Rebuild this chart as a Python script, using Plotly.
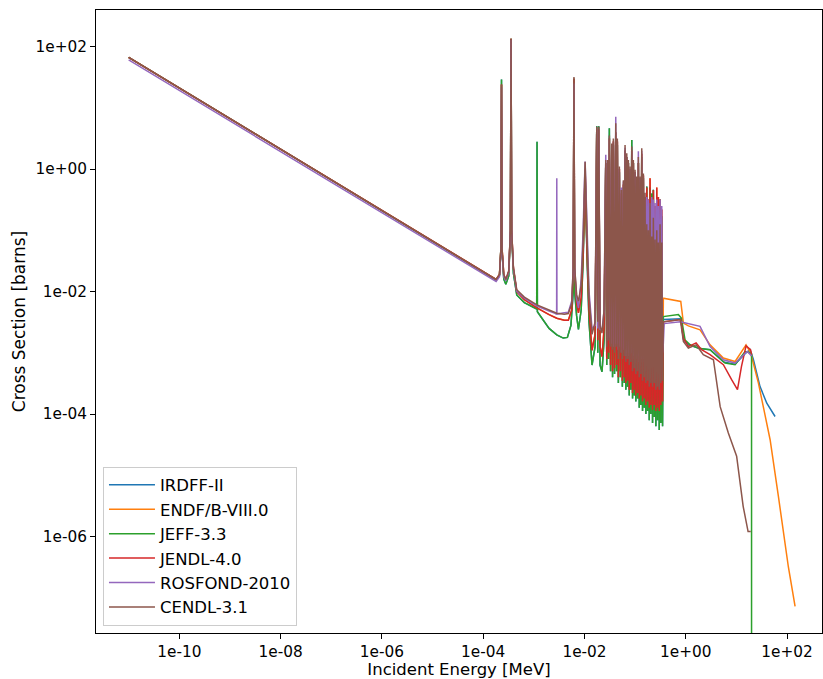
import plotly.graph_objects as go

# ---------------- data (energies in MeV, cross sections in barns) ----------------
labels = ["IRDFF-II", "ENDF/B-VIII.0", "JEFF-3.3", "JENDL-4.0", "ROSFOND-2010", "CENDL-3.1"]
colors = ["#1f77b4", "#ff7f0e", "#2ca02c", "#d62728", "#9467bd", "#8c564b"]

# low-energy part: 1/v region and isolated resonances (below ~25 keV)
cendl_low_E = [1e-11, 1.8e-4, 2.1e-4, 2.24e-4, 2.3e-4, 2.36e-4, 2.55e-4, 2.8e-4, 3.2e-4, 3.45e-4,
               3.55e-4, 3.65e-4, 3.95e-4, 4.6e-4, 6.5e-4, 1.15e-3, 2.0e-3, 2.84e-3, 4.0e-3, 4.8e-3,
               5.6e-3, 6.0e-3, 6.2e-3, 6.4e-3, 7.0e-3, 7.6e-3, 8.6e-3, 9.4e-3, 1.0e-2, 1.03e-2,
               1.06e-2, 1.13e-2, 1.23e-2, 1.41e-2, 1.62e-2, 1.748e-2, 1.83e-2, 1.914e-2, 2.03e-2, 2.22e-2,
               2.44e-2]
cendl_low_xs = [67, 1.58e-2, 1.9e-2, 5e-2, 24, 5e-2, 1.9e-2, 1.58e-2, 2.2e-2, 0.1,
                135, 0.1, 2.5e-2, 1.07e-2, 8.1e-3, 6.07e-3, 5e-3, 4.44e-3, 4.27e-3, 4.37e-3,
                6.3e-3, 2.5e-2, 32, 2.5e-2, 8.9e-3, 6.9e-3, 1.26e-2, 6.3e-2, 0.5, 1.32,
                0.5, 6.3e-2, 7.9e-3, 2e-3, 3.2e-3, 4.9, 3.2e-3, 4.9, 2.8e-3, 2.1e-3,
                5e-3]
jendl_low_E = cendl_low_E
jendl_low_xs = [67, 1.58e-2, 1.9e-2, 5e-2, 24, 5e-2, 1.9e-2, 1.55e-2, 2.1e-2, 0.1,
                135, 0.1, 2.4e-2, 1.0e-2, 7.4e-3, 5.4e-3, 4.2e-3, 3.67e-3, 3.4e-3, 3.4e-3,
                5e-3, 2.2e-2, 30, 2.2e-2, 6.3e-3, 4.5e-3, 7.9e-3, 4e-2, 0.32, 1.0,
                0.32, 4e-2, 5e-3, 1.1e-3, 2e-3, 4.5, 1.6e-3, 4.5, 1.26e-3, 8.7e-4,
                2.5e-3]
jeff_low_E = [1e-11, 1.8e-4, 2.1e-4, 2.24e-4, 2.3e-4, 2.36e-4, 2.55e-4, 2.8e-4, 3.2e-4, 3.45e-4,
              3.55e-4, 3.65e-4, 3.95e-4, 4.6e-4, 6.5e-4, 1.14e-3, 1.158e-3, 1.175e-3, 2.0e-3, 2.84e-3,
              3.8e-3, 4.6e-3, 5.4e-3, 6.0e-3, 6.2e-3, 6.4e-3, 7.0e-3, 7.6e-3, 8.6e-3, 9.4e-3,
              1.0e-2, 1.03e-2, 1.06e-2, 1.13e-2, 1.23e-2, 1.41e-2, 1.62e-2, 1.748e-2, 1.83e-2, 1.914e-2,
              2.03e-2, 2.22e-2, 2.44e-2]
jeff_low_xs = [67, 1.55e-2, 1.85e-2, 5e-2, 29, 4.5e-2, 1.6e-2, 1.32e-2, 1.8e-2, 0.1,
               135, 0.09, 2e-2, 8.8e-3, 6.6e-3, 5.2e-3, 2.8, 4.7e-3, 2.5e-3, 1.96e-3,
               1.74e-3, 1.78e-3, 2.8e-3, 1e-2, 30, 1e-2, 4e-3, 2.4e-3, 5e-3, 3.2e-2,
               0.25, 0.8, 0.25, 3.2e-2, 3.2e-3, 6.3e-4, 1.26e-3, 5.0, 1e-3, 5.0,
               6.3e-4, 4.9e-4, 1.6e-3]
rosfond_low_E = [1e-11, 1.8e-4, 2.1e-4, 2.24e-4, 2.3e-4, 2.36e-4, 2.55e-4, 2.8e-4, 3.2e-4, 3.45e-4,
                 3.55e-4, 3.65e-4, 3.95e-4, 4.6e-4, 6.5e-4, 1.15e-3, 2.0e-3, 2.82e-3, 2.84e-3, 2.86e-3,
                 4.0e-3, 4.8e-3, 5.6e-3, 6.0e-3, 6.2e-3, 6.4e-3, 7.0e-3, 7.6e-3, 8.6e-3, 9.4e-3,
                 1.0e-2, 1.03e-2, 1.06e-2, 1.13e-2, 1.23e-2, 1.41e-2, 1.62e-2, 1.748e-2, 1.83e-2, 1.914e-2,
                 2.03e-2, 2.22e-2, 2.44e-2]
rosfond_low_xs = [60.7, 1.46e-2, 1.75e-2, 4.5e-2, 22, 4.5e-2, 1.75e-2, 1.5e-2, 2.1e-2, 0.1,
                  130, 0.1, 2.4e-2, 1.02e-2, 7.8e-3, 5.8e-3, 4.8e-3, 4.3e-3, 0.71, 4.3e-3,
                  4.5e-3, 4.6e-3, 7e-3, 2.5e-2, 25, 2.5e-2, 7.9e-3, 5.4e-3, 1.6e-2, 0.1,
                  0.63, 1.33, 0.63, 0.1, 1e-2, 2.5e-3, 2.8e-3, 4.5, 2.5e-3, 4.5,
                  2.4e-3, 2.35e-3, 5e-3]

# dense resonance region (~26 keV - 350 keV): alternating peak / valley energies
dense_E = [0.02632, 0.02754, 0.02882, 0.02988, 0.03099, 0.03273, 0.03457, 0.03585, 0.03718, 0.03926,
           0.04147, 0.04300, 0.04459, 0.04667, 0.04885, 0.05112, 0.05351, 0.05598, 0.05859, 0.06103,
           0.06330, 0.06564, 0.06837, 0.07090, 0.07353, 0.07661, 0.07945, 0.08239, 0.08582, 0.08900,
           0.09230, 0.09616, 0.09972, 0.1034, 0.1077, 0.1117, 0.1159, 0.1207, 0.1252, 0.1298,
           0.1352, 0.1402, 0.1455, 0.1515, 0.1571, 0.1630, 0.1698, 0.1761, 0.1826, 0.1902,
           0.1972, 0.2045, 0.2131, 0.2210, 0.2292, 0.2388, 0.2476, 0.2568, 0.2676, 0.2774,
           0.2877, 0.2997, 0.3108, 0.3223, 0.3358, 0.3482]
cendl_dense = [1.41, 1.26e-3, 1.41, 1.58e-3, 3.55, 1.26e-3, 2.63, 1.12e-3, 3.16, 1.0e-3,
               5.62, 1.26e-3, 3.16, 7.9e-4, 1.1, 1.0e-3, 0.457, 7.9e-4, 0.66, 8.9e-4,
               2.48, 7.1e-4, 1.82, 7.9e-4, 1.41, 6.3e-4, 1.1, 7.1e-4, 2.34, 5.0e-4,
               1.41, 5.6e-4, 0.98, 4.5e-4, 0.76, 5.0e-4, 1.58, 4.0e-4, 0.76, 4.5e-4,
               2.19, 3.5e-4, 0.85, 4.0e-4, 0.41, 3.2e-4, 0.126, 3.5e-4, 0.1, 2.8e-4,
               0.28, 3.2e-4, 7.9e-2, 2.8e-4, 0.16, 3.2e-4, 7.1e-2, 2.5e-4, 0.1, 2.8e-4,
               6.3e-2, 2.5e-4, 0.126, 3.2e-4, 6.3e-2, 3.5e-4]
jendl_dense = [1.26, 7.9e-4, 1.26, 1.0e-3, 3.16, 6.3e-4, 2.24, 5.0e-4, 2.82, 5.6e-4,
               3.98, 6.3e-4, 2.82, 4.0e-4, 1.0, 5.0e-4, 0.4, 3.5e-4, 0.56, 4.0e-4,
               2.0, 3.2e-4, 1.58, 3.5e-4, 1.26, 2.5e-4, 1.0, 3.2e-4, 2.0, 2.2e-4,
               1.26, 2.5e-4, 0.89, 2.0e-4, 0.71, 2.2e-4, 1.26, 1.8e-4, 0.71, 2.0e-4,
               1.78, 1.6e-4, 0.79, 1.8e-4, 0.35, 1.4e-4, 0.5, 1.6e-4, 0.32, 1.26e-4,
               0.71, 1.4e-4, 0.28, 1.17e-4, 0.45, 1.4e-4, 0.25, 1.12e-4, 0.5, 1.26e-4,
               0.35, 1.12e-4, 0.32, 1.4e-4, 0.22, 1.6e-4]
jeff_dense = [1.26, 6.3e-4, 1.26, 7.9e-4, 4.65, 5.0e-4, 2.0, 4.0e-4, 2.51, 4.5e-4,
              3.98, 5.0e-4, 2.51, 3.2e-4, 0.89, 4.0e-4, 0.35, 2.8e-4, 0.5, 3.2e-4,
              2.0, 2.5e-4, 1.58, 2.8e-4, 1.26, 2.0e-4, 1.0, 2.5e-4, 3.0, 1.8e-4,
              1.26, 2.0e-4, 0.79, 1.6e-4, 0.63, 1.8e-4, 1.26, 1.26e-4, 0.63, 1.4e-4,
              1.58, 1.12e-4, 0.71, 1.26e-4, 0.32, 1.0e-4, 0.52, 1.12e-4, 0.25, 7.9e-5,
              0.5, 1.0e-4, 0.4, 7.1e-5, 0.46, 8.9e-5, 0.2, 6.3e-5, 0.35, 7.9e-5,
              0.25, 5.5e-5, 0.32, 7.1e-5, 0.17, 6.3e-5]
rosfond_dense = [1.71, 1.58e-3, 1.26, 1.78e-3, 3.16, 1.41e-3, 2.51, 1.26e-3, 2.82, 1.26e-3,
                 7.2, 1.41e-3, 2.82, 1.12e-3, 1.0, 1.26e-3, 0.5, 1.0e-3, 0.63, 1.12e-3,
                 2.24, 8.9e-4, 1.58, 1.0e-3, 1.26, 8.9e-4, 1.0, 1.0e-3, 2.0, 7.9e-4,
                 1.26, 8.9e-4, 0.89, 7.9e-4, 0.71, 8.9e-4, 1.95, 7.1e-4, 0.71, 7.9e-4,
                 2.0, 7.1e-4, 0.79, 7.9e-4, 0.32, 6.3e-4, 0.35, 7.1e-4, 0.32, 6.3e-4,
                 0.28, 7.1e-4, 0.35, 6.3e-4, 0.32, 7.1e-4, 0.28, 6.3e-4, 0.32, 7.1e-4,
                 0.25, 6.3e-4, 0.32, 7.9e-4, 0.25, 1.0e-3]

# high-energy (smooth) part
endf_high_E = [0.3611, 0.797, 0.898, 1.125, 1.915, 3.02, 5.53, 9.42, 15.5, 19.2, 27.2, 46.3, 67.5, 106, 144]
endf_high_xs = [7.8e-3, 6.9e-3, 3.05e-3, 2.75e-3, 2.37e-3, 1.35e-3, 8.2e-4, 7.2e-4, 1.35e-3, 9.9e-4,
                3.2e-4, 3.8e-5, 4.5e-6, 3.2e-7, 7.2e-8]
irdff_high_E = [0.3611, 0.797, 0.898, 1.125, 1.915, 3.02, 5.53, 9.42, 15.5, 18.6, 21.5, 29.3, 39.8, 58]
irdff_high_xs = [3.5e-3, 3.6e-3, 1.66e-3, 1.35e-3, 1.17e-3, 1.12e-3, 7.1e-4, 6.5e-4, 1.0e-3, 1.12e-3,
                 7.9e-4, 2.8e-4, 1.5e-4, 9.1e-5]
jeff_high_E = [0.3611, 0.716, 0.82, 0.968, 1.22, 1.78, 3.02, 5.97, 9.42, 14.8, 18.6, 19.9, 20.0]
jeff_high_xs = [3.9e-3, 4.2e-3, 3.7e-3, 1.62e-3, 1.35e-3, 1.19e-3, 1.12e-3, 6.8e-4, 6.4e-4, 1.05e-3,
                1.0e-3, 9.5e-4, 0.0]
jendl_high_E = [0.3611, 0.797, 0.898, 1.125, 1.60, 2.05, 3.02, 5.53, 8.1, 10.5, 12.6, 15.5, 19.0, 20.0]
jendl_high_xs = [3.2e-3, 3.5e-3, 1.74e-3, 1.26e-3, 1.45e-3, 1.12e-3, 9.3e-4, 6.4e-4, 3.6e-4, 2.5e-4,
                 6.0e-4, 1.3e-3, 1.12e-3, 9.3e-4]
rosfond_high_E = [0.3611, 0.375, 0.78, 1.915, 3.02, 5.53, 9.42, 16.3, 20.0]
rosfond_high_xs = [1.45e-3, 3.0e-3, 3.2e-3, 2.7e-3, 1.26e-3, 7.7e-4, 6.8e-4, 1.05e-3, 8.9e-4]
cendl_high_E = [0.3611, 0.78, 0.898, 1.125, 1.60, 2.22, 3.52, 4.78, 6.93, 10.1, 13.6, 17.0, 19.2]
cendl_high_xs = [3.2e-3, 3.5e-3, 1.53e-3, 1.19e-3, 1.35e-3, 9.3e-4, 7.7e-4, 1.32e-4, 4.9e-5, 2.04e-5,
                 3.1e-6, 1.2e-6, 1.2e-6]

x_tick_vals = [1e-10, 1e-8, 1e-6, 1e-4, 1e-2, 1e0, 1e2]
x_tick_text = ["1e-10", "1e-08", "1e-06", "1e-04", "1e-02", "1e+00", "1e+02"]
y_tick_vals = [1e-6, 1e-4, 1e-2, 1e0, 1e2]
y_tick_text = ["1e-06", "1e-04", "1e-02", "1e+00", "1e+02"]

# IRDFF-II and ENDF/B-VIII.0 are hidden below the other evaluations below ~0.36 MeV
series = [
    (irdff_high_E, jeff_low_E, jeff_low_xs, jeff_dense, irdff_high_xs),
    (endf_high_E, jendl_low_E, jendl_low_xs, jendl_dense, endf_high_xs),
    (jeff_high_E, jeff_low_E, jeff_low_xs, jeff_dense, jeff_high_xs),
    (jendl_high_E, jendl_low_E, jendl_low_xs, jendl_dense, jendl_high_xs),
    (rosfond_high_E, rosfond_low_E, rosfond_low_xs, rosfond_dense, rosfond_high_xs),
    (cendl_high_E, cendl_low_E, cendl_low_xs, cendl_dense, cendl_high_xs),
]

FONT = "DejaVu Sans"
fig = go.Figure()
for (hiE, loE, loX, dX, hiX), lab, col in zip(series, labels, colors):
    E = list(loE) + list(dense_E) + list(hiE)
    xs = list(loX) + list(dX) + list(hiX)
    # non-positive values are clipped far below the axis (as on a log plot)
    xs = [v if v > 0 else 1e-30 for v in xs]
    fig.add_trace(go.Scatter(x=E, y=xs, mode="lines", name=lab,
                             line=dict(color=col, width=1.5, simplify=False)))

axis_common = dict(type="log", showgrid=False, zeroline=False, showline=True, mirror=True,
                   linecolor="black", linewidth=1, ticks="outside", ticklen=5, tickwidth=1,
                   tickcolor="black", tickfont=dict(family=FONT, size=15.3, color="black"))
fig.update_layout(
    width=823, height=679,
    margin=dict(l=96, r=1, t=10, b=46),
    paper_bgcolor="white", plot_bgcolor="white",
    font=dict(family=FONT, color="black"),
    xaxis=dict(range=[-11.645, 2.69], tickvals=x_tick_vals, ticktext=x_tick_text,
               title=dict(text="Incident Energy [MeV]", font=dict(family=FONT, size=16.5), standoff=5),
               **axis_common),
    yaxis=dict(range=[-7.577, 2.599], tickvals=y_tick_vals, ticktext=y_tick_text,
               title=dict(text="Cross Section [barns]", font=dict(family=FONT, size=17), standoff=5),
               **axis_common),
    legend=dict(x=0.0096, y=0.012, xanchor="left", yanchor="bottom",
                font=dict(family=FONT, size=16.5, color="black"),
                bgcolor="rgba(255,255,255,0.8)", bordercolor="#cccccc", borderwidth=1,
                tracegroupgap=0, itemwidth=46),
    showlegend=True,
)

fig.write_html("out.html")
